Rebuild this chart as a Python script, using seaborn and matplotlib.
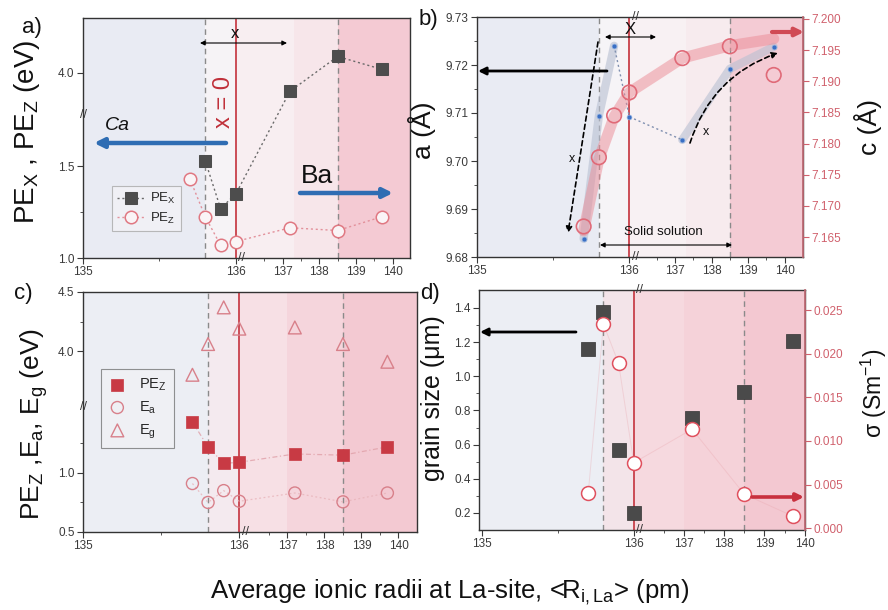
import numpy as np
import matplotlib
matplotlib.use("Agg")
import matplotlib.pyplot as plt
import seaborn as sns

sns.set_theme(style="ticks")
plt.rcParams['font.family'] = ['Liberation Sans', 'DejaVu Sans']
plt.rcParams['mathtext.fontset'] = 'custom'
plt.rcParams['mathtext.rm'] = 'Liberation Sans'
plt.rcParams['mathtext.it'] = 'Liberation Sans:italic'
plt.rcParams['mathtext.bf'] = 'Liberation Sans:bold'

# ---------------- data ----------------
radius = [135.7, 135.8, 135.9, 136.0, 137.2, 138.5, 139.7]
radius_pex = [135.8, 135.9, 136.0, 137.2, 138.5, 139.7]
pe_x = [1.53, 1.27, 1.35, 3.90, 4.09, 4.02]
pe_z = [1.43, 1.225, 1.07, 1.09, 1.165, 1.15, 1.225]
a_latt = [9.6838, 9.7094, 9.7240, 9.7092, 9.7044, 9.7192, 9.7238]
c_latt = [7.1667, 7.1778, 7.1845, 7.1882, 7.1937, 7.1956, 7.1910]
c_trend = [7.1660, 7.1775, 7.1843, 7.1882, 7.1937, 7.1957, 7.1968]
pe_z_c = [1.43, 1.22, 1.08, 1.09, 1.16, 1.15, 1.22]
e_a = [0.91, 0.75, 0.85, 0.76, 0.83, 0.755, 0.83]
e_g = [3.80, 4.06, 4.37, 4.19, 4.20, 4.06, 3.91]
grain = [1.16, 1.375, 0.57, 0.20, 0.755, 0.91, 1.205]
sigma = [0.0040, 0.0234, 0.0189, 0.0075, 0.01135, 0.0039, 0.0014]

x_ticks = [135, 136, 137, 138, 139, 140]
ya_ticks = [1.0, 1.5, 4.0]
yb_ticks = [9.68, 9.69, 9.70, 9.71, 9.72, 9.73]
yb2_ticks = [7.165, 7.170, 7.175, 7.180, 7.185, 7.190, 7.195, 7.200]
yc_ticks = [0.5, 1.0, 4.0, 4.5]
yd_ticks = [0.2, 0.4, 0.6, 0.8, 1.0, 1.2, 1.4]
yd2_ticks = [0.000, 0.005, 0.010, 0.015, 0.020, 0.025]

W, H = 888, 610
fig = plt.figure(figsize=(W / 100, H / 100), dpi=100)
fig.patch.set_facecolor('white')

BOX_A = (83, 410, 18, 258)
BOX_B = (477, 803, 17, 257)
BOX_C = (83, 417, 292, 532)
BOX_D = (479, 805, 290, 530)


def add_ax(box):
    l, r, t, b = box
    return fig.add_axes([l / W, 1 - b / H, (r - l) / W, (b - t) / H])


def af(box, px, py):
    l, r, t, b = box
    return ((px - l) / (r - l), (b - py) / (b - t))


def xwarp(s1, gap, s2):
    def fwd(x):
        x = np.asarray(x, float)
        return np.where(x <= 136.0, (x - 135.0) * s1, s1 + gap + (x - 136.0) * s2)

    def inv(u):
        u = np.asarray(u, float)
        return np.where(u <= s1, 135.0 + u / s1,
                        np.where(u < s1 + gap, 136.0, 136.0 + (u - s1 - gap) / s2))
    return fwd, inv


def ywarp(lo_min, lo_top, hi_bot):
    span = lo_top - lo_min

    def fwd(y):
        y = np.asarray(y, float)
        return np.where(y <= lo_top, y - lo_min,
                        np.where(y >= hi_bot, y - hi_bot + span, span))

    def inv(u):
        u = np.asarray(u, float)
        return np.where(u <= span, u + lo_min, u - span + hi_bot)
    return fwd, inv


TICK_C = '#3a3a3a'
RED_T = '#d0606c'


def style(ax):
    ax.tick_params(axis='both', which='major', direction='out', length=4, width=0.8,
                   labelsize=8.5, colors=TICK_C, pad=2)
    ax.tick_params(axis='both', which='minor', direction='out', length=2, width=0.6,
                   colors=TICK_C)
    for s in ax.spines.values():
        s.set_color('#333333')
        s.set_linewidth(1.0)
    ax.set_xticks(x_ticks)
    ax.set_xticklabels([str(t) for t in x_ticks])


def backgrounds(ax, spans):
    for x0, x1, col in spans:
        ax.axvspan(x0, x1, color=col, lw=0, zorder=0)


def vlines(ax):
    ax.axvline(135.8, color='#8a8a8a', lw=1.0, ls=(0, (4, 3)), zorder=1)
    ax.axvline(138.5, color='#8a8a8a', lw=1.0, ls=(0, (4, 3)), zorder=1)
    ax.axvline(136.0, color='#c8404a', lw=1.3, zorder=1)


def xbreak(ax, top=False):
    ys = [0] + ([1] if top else [])
    for yy in ys:
        ax.annotate('//', xy=(136.0, yy), xycoords=('data', 'axes fraction'),
                    xytext=(6, 0), textcoords='offset pixels', ha='center', va='center',
                    fontsize=9, color='#333333', annotation_clip=False)


def ybreak(ax, yv):
    ax.annotate('//', xy=(0, yv), xycoords=('axes fraction', 'data'), ha='center',
                va='center', fontsize=9, color='#333333', annotation_clip=False)


def arrow(ax, box, p0, p1, color='black', lw=1.0, style='-|>', ls='-', rad=0.0, ms=10):
    ax.annotate('', xy=af(box, *p1), xytext=af(box, *p0), xycoords='axes fraction',
                textcoords='axes fraction',
                arrowprops=dict(arrowstyle=style, color=color, lw=lw, ls=ls,
                                mutation_scale=ms, shrinkA=0, shrinkB=0,
                                connectionstyle=f'arc3,rad={rad}'), zorder=6)


def label_at(ax, box, px, py, s, **kw):
    ax.text(*af(box, px, py), s, transform=ax.transAxes, ha='center', va='center', **kw)


BLUEGRAY = '#e9ebf3'

# ================= panel a =================
ax_a = add_ax(BOX_A)
ax_a.set_xscale('function', functions=xwarp(152, 10, 36.5))
ax_a.set_yscale('function', functions=ywarp(1.0, 1.78, 3.77))
ax_a.set_xlim(135, 140.47)
ax_a.set_ylim(1.0, 4.30)
backgrounds(ax_a, [(135, 135.8, BLUEGRAY), (135.8, 136.0, '#f6f3f6'),
                   (136.0, 137.3, '#f8eef1'), (137.3, 138.5, '#f7e6ea'),
                   (138.5, 140.47, '#f4cad3')])
vlines(ax_a)
sns.lineplot(x=radius_pex, y=pe_x, ax=ax_a, color='#6a6a6a', lw=1.0, ls=(0, (1.5, 2)),
             marker='s', markersize=8, markerfacecolor='#4d4d4d', markeredgecolor='#4d4d4d',
             label='PE$_\\mathrm{X}$', zorder=4)
sns.lineplot(x=radius, y=pe_z, ax=ax_a, color='#e2909a', lw=1.0, ls=(0, (1.5, 2)),
             marker='o', markersize=9, markerfacecolor='#faf4f6', markeredgecolor='#e07882',
             markeredgewidth=1.1, label='PE$_\\mathrm{Z}$', zorder=4)
style(ax_a)
ax_a.set_yticks(ya_ticks)
ax_a.set_yticklabels(['1.0', '1.5', '4.0'])
ax_a.set_yticks([1.25], minor=True)
ax_a.set_xticks([135.5, 136.5, 137.5, 138.5, 139.5], minor=True)
ax_a.set_xlabel('')
ax_a.set_ylabel('PE$_\\mathrm{X}$ , PE$_\\mathrm{Z}$ (eV)', fontsize=20, color='#111111')
ax_a.yaxis.set_label_coords(-0.125, 0.525)
leg = ax_a.legend(loc='lower left', bbox_to_anchor=(0.067, 0.083), frameon=True,
                  fancybox=False, fontsize=9.5, handlelength=2.2, borderpad=0.4,
                  labelspacing=0.35, handletextpad=0.3)
leg.get_frame().set_edgecolor('#aaaaaa')
leg.get_frame().set_facecolor('#f2f2f6')
leg.get_frame().set_linewidth(0.8)
xbreak(ax_a)
ybreak(ax_a, 1.78)
arrow(ax_a, BOX_A, (226, 143), (94, 143), color='#2f6db3', lw=3.2, ms=14)
label_at(ax_a, BOX_A, 117, 126, 'Ca', fontsize=14, style='italic', color='#111111')
arrow(ax_a, BOX_A, (300, 193), (393, 193), color='#2f6db3', lw=3.2, ms=14)
label_at(ax_a, BOX_A, 317, 176, 'Ba', fontsize=19, color='#111111')
label_at(ax_a, BOX_A, 224, 102, 'x = 0', fontsize=17, color='#c0303a', rotation=90)
arrow(ax_a, BOX_A, (200, 43), (287, 43), style='<|-|>', lw=0.8, ms=7)
label_at(ax_a, BOX_A, 235, 33, 'x', fontsize=12, color='#111111')
fig.text(32 / W, 1 - 27 / H, 'a)', fontsize=16, ha='center', va='center', color='#111111')

# ================= panel b =================
ax_b = add_ax(BOX_B)
ax_b.set_xscale('function', functions=xwarp(152, 9, 36.5))
ax_b.set_xlim(135, 140.5)
ax_b.set_ylim(9.68, 9.73)
backgrounds(ax_b, [(135, 135.8, BLUEGRAY), (135.8, 136.0, '#f6f4f7'),
                   (136.0, 137.3, '#f8f1f3'), (137.3, 138.5, '#f7ebee'),
                   (138.5, 140.5, '#f4cbd4')])
vlines(ax_b)
sns.lineplot(x=radius[0:3], y=a_latt[0:3], ax=ax_b, color='#b8c0d2', lw=6, alpha=0.6,
             solid_capstyle='round', zorder=2)
sns.lineplot(x=radius[4:7], y=a_latt[4:7], ax=ax_b, color='#b8c0d2', lw=6, alpha=0.6,
             solid_capstyle='round', zorder=2)
sns.lineplot(x=radius[2:5], y=a_latt[2:5], ax=ax_b, color='#8090b0', lw=1.0,
             ls=(0, (1.5, 2)), zorder=2)
sns.scatterplot(x=radius, y=a_latt, ax=ax_b, color='#3a6fc4', marker='o', s=12,
                edgecolor='#8fb0e0', linewidth=0.5, zorder=3)
style(ax_b)
ax_b.set_yticks(yb_ticks)
ax_b.set_yticklabels([f'{t:.2f}' for t in yb_ticks])
ax_b.set_yticks([9.685, 9.695, 9.705, 9.715, 9.725], minor=True)
ax_b.set_xticks([135.5, 136.5, 137.5, 138.5, 139.5], minor=True)
ax_b.set_xlabel('')
ax_b.set_ylabel('a (Å)', fontsize=19, color='#111111')
ax_b.yaxis.set_label_coords(-0.126, 0.53)

ax_b2 = ax_b.twinx()
ax_b2.set_ylim(7.1618, 7.2003)
sns.lineplot(x=radius, y=c_trend, ax=ax_b2, color='#ec8a95', lw=8, alpha=0.5,
             solid_capstyle='round', zorder=2)
sns.scatterplot(x=radius, y=c_latt, ax=ax_b2, marker='o', s=110, facecolor='none',
                edgecolor='#e06a78', linewidth=1.2, zorder=4)
ax_b2.tick_params(axis='y', which='major', direction='out', length=4, width=0.8,
                  labelsize=8.5, colors=RED_T, pad=2)
ax_b2.set_yticks(yb2_ticks)
ax_b2.set_yticklabels([f'{t:.3f}' for t in yb2_ticks])
ax_b2.spines['right'].set_color('#c06a74')
for s in ['left', 'top', 'bottom']:
    ax_b2.spines[s].set_visible(False)
ax_b2.set_ylabel('c (Å)', fontsize=19, color='#111111')
ax_b2.yaxis.set_label_coords(1.155, 0.54)
xbreak(ax_b, top=True)
arrow(ax_b2, BOX_B, (607, 71), (478, 71), lw=2.0, ms=11)
arrow(ax_b2, BOX_B, (605, 37), (656, 37), style='<|-|>', lw=0.8, ms=7)
label_at(ax_b2, BOX_B, 630, 29, 'X', fontsize=12, color='#111111')
arrow(ax_b2, BOX_B, (598, 42), (568, 233), ls=(0, (3, 2)), lw=1.2, ms=9)
label_at(ax_b2, BOX_B, 572, 159, 'x', fontsize=9, color='#111111')
arrow(ax_b2, BOX_B, (690, 143), (778, 53), ls=(0, (3, 2)), lw=1.2, ms=9, rad=-0.25)
label_at(ax_b2, BOX_B, 706, 132, 'x', fontsize=9, color='#111111')
arrow(ax_b2, BOX_B, (772, 32), (804, 32), color='#d04a55', lw=3.0, ms=12)
arrow(ax_b2, BOX_B, (600, 245), (732, 245), style='<|-|>', lw=0.8, ms=7)
label_at(ax_b2, BOX_B, 663, 232, 'Solid solution', fontsize=9.5, color='#111111')
fig.text(428 / W, 1 - 20 / H, 'b)', fontsize=16, ha='center', va='center', color='#111111')

# ================= panel c =================
ax_c = add_ax(BOX_C)
ax_c.set_xscale('function', functions=xwarp(155, 11, 36.7))
ax_c.set_yscale('function', functions=ywarp(0.5, 1.56, 3.53))
ax_c.set_xlim(135, 140.5)
ax_c.set_ylim(0.5, 4.5)
backgrounds(ax_c, [(135, 135.8, '#eceef4'), (135.8, 136.0, '#f4eaef'),
                   (136.0, 137.0, '#f7e0e5'), (137.0, 138.5, '#f5d5dc'),
                   (138.5, 140.5, '#f3c9d2')])
vlines(ax_c)
sns.lineplot(x=radius, y=pe_z_c, ax=ax_c, color='#e0a0a8', lw=0.9, ls=(0, (4, 2, 1, 2)),
             alpha=0.8, zorder=2)
sns.lineplot(x=radius, y=e_a, ax=ax_c, color='#e8b4ba', lw=0.9, ls=(0, (1.5, 2)),
             alpha=0.8, zorder=2)
sns.scatterplot(x=radius, y=pe_z_c, ax=ax_c, marker='s', s=75, color='#c83a44',
                edgecolor='#c83a44', linewidth=0.5, label='PE$_\\mathrm{Z}$', zorder=4)
sns.scatterplot(x=radius, y=e_a, ax=ax_c, marker='o', s=75, facecolor='none',
                edgecolor='#d8808a', linewidth=1.0, label='E$_\\mathrm{a}$', zorder=4)
sns.scatterplot(x=radius, y=e_g, ax=ax_c, marker='^', s=85, facecolor='none',
                edgecolor='#d8808a', linewidth=1.0, label='E$_\\mathrm{g}$', zorder=4)
style(ax_c)
ax_c.set_yticks(yc_ticks)
ax_c.set_yticklabels(['0.5', '1.0', '4.0', '4.5'])
ax_c.set_yticks([0.75, 1.25, 4.25], minor=True)
ax_c.set_xticks([135.5, 136.5, 137.5, 138.5, 139.5], minor=True)
ax_c.set_xlabel('')
ax_c.set_ylabel('PE$_\\mathrm{Z}$ ,E$_\\mathrm{a}$, E$_\\mathrm{g}$ (eV)', fontsize=19,
                color='#111111')
ax_c.yaxis.set_label_coords(-0.1, 0.45)
leg = ax_c.legend(loc='lower left', bbox_to_anchor=(0.033, 0.32), frameon=True,
                  fancybox=False, fontsize=10.5, borderpad=0.5, labelspacing=0.45,
                  handletextpad=0.9, handlelength=1.2)
leg.get_frame().set_edgecolor('#777777')
leg.get_frame().set_facecolor('#f1f1f5')
leg.get_frame().set_linewidth(0.8)
xbreak(ax_c)
ybreak(ax_c, 1.56)
fig.text(23 / W, 1 - 294 / H, 'c)', fontsize=16, ha='center', va='center', color='#111111')

# ================= panel d =================
ax_d = add_ax(BOX_D)
ax_d.set_xscale('function', functions=xwarp(151, 10, 40))
ax_d.set_xlim(134.98, 140.01)
ax_d.set_ylim(0.10, 1.505)
backgrounds(ax_d, [(134.98, 135.8, '#eceef4'), (135.8, 136.0, '#f3e4e9'),
                   (136.0, 137.0, '#f6d9df'), (137.0, 138.5, '#f5d2d9'),
                   (138.5, 140.01, '#f3c8d1')])
vlines(ax_d)
sns.scatterplot(x=radius, y=grain, ax=ax_d, marker='s', s=95, color='#4a4a4a',
                edgecolor='#333333', linewidth=0.5, zorder=4)
style(ax_d)
ax_d.set_yticks(yd_ticks)
ax_d.set_yticklabels([f'{t:.1f}' for t in yd_ticks])
ax_d.set_yticks([0.3, 0.5, 0.7, 0.9, 1.1, 1.3], minor=True)
ax_d.set_xticks([135.5, 136.5, 137.5, 138.5, 139.5], minor=True)
ax_d.set_xlabel('')
ax_d.set_ylabel('grain size (μm)', fontsize=18, color='#111111')
ax_d.yaxis.set_label_coords(-0.104, 0.55)

ax_d2 = ax_d.twinx()
ax_d2.set_ylim(-0.0002, 0.0273)
sns.lineplot(x=radius, y=sigma, ax=ax_d2, color='#e8a0a8', lw=0.7, alpha=0.3, zorder=2)
sns.scatterplot(x=radius, y=sigma, ax=ax_d2, marker='o', s=100, facecolor='white',
                edgecolor='#e0505e', linewidth=1.1, zorder=5)
ax_d2.tick_params(axis='y', which='major', direction='out', length=4, width=0.8,
                  labelsize=8.5, colors=RED_T, pad=2)
ax_d2.set_yticks(yd2_ticks)
ax_d2.set_yticklabels([f'{t:.3f}' for t in yd2_ticks])
ax_d2.spines['right'].set_color('#c06a74')
for s in ['left', 'top', 'bottom']:
    ax_d2.spines[s].set_visible(False)
ax_d2.set_ylabel('σ (Sm$^{-1}$)', fontsize=16.5, color='#111111')
ax_d2.yaxis.set_label_coords(1.165, 0.57)
xbreak(ax_d, top=True)
arrow(ax_d2, BOX_D, (576, 332), (480, 332), lw=2.0, ms=11)
arrow(ax_d2, BOX_D, (752, 497), (804, 497), color='#c8303e', lw=2.6, ms=11)
fig.text(430 / W, 1 - 294 / H, 'd)', fontsize=16, ha='center', va='center', color='#111111')

fig.text(450 / W, 1 - 592 / H, 'Average ionic radii at La-site, <R$_\\mathrm{i,La}$> (pm)',
         fontsize=18.5, ha='center', va='center', color='#111111')

fig.savefig('out.png', dpi=100)
